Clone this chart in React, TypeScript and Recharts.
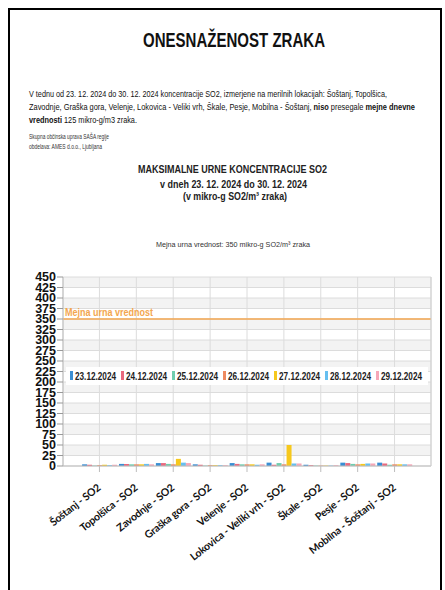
import React from 'react';
import { BarChart, Bar, XAxis, YAxis, CartesianGrid, ReferenceLine, Legend } from 'recharts';

const locations = [
  'Šoštanj - SO2',
  'Topolšica - SO2',
  'Zavodnje - SO2',
  'Graška gora - SO2',
  'Velenje - SO2',
  'Lokovica - Veliki vrh - SO2',
  'Škale - SO2',
  'Pesje - SO2',
  'Mobilna - Šoštanj - SO2',
];
const dates = ['23.12.2024', '24.12.2024', '25.12.2024', '26.12.2024', '27.12.2024', '28.12.2024', '29.12.2024'];
const d23 = [4, 5, 7, 4, 7, 8, 3, 8, 8];
const d24 = [3, 5, 7, 3, 5, 3, 2, 7, 6];
const d25 = [1, 4, 5, 1, 4, 7, 1, 5, 3];
const d26 = [2, 4, 4, 2, 4, 4, 1, 4, 4];
const d27 = [3, 4, 17, 2, 4, 50, 1, 5, 4];
const d28 = [2, 5, 8, 2, 3, 6, 1, 6, 4];
const d29 = [3, 4, 7, 2, 4, 6, 2, 6, 4];
const yTicks = [0, 25, 50, 75, 100, 125, 150, 175, 200, 225, 250, 275, 300, 325, 350, 375, 400, 425, 450];
const limitValue = 350;
const limitLabel = 'Mejna urna vrednost';

const seriesValues = [d23, d24, d25, d26, d27, d28, d29];
const colors = ['#3a8ed3', '#e9697e', '#70cdae', '#ee8a60', '#f6c81d', '#66bff0', '#f6a7b7'];

const data = locations.map((name, i) => {
  const row: Record<string, string | number> = { name };
  seriesValues.forEach((s, k) => {
    row['d' + k] = s[i];
  });
  return row;
});

const FONT = "'Liberation Sans', Arial, sans-serif";

const XTick = (props: any) => {
  const { x, y, payload } = props;
  return (
    <g transform={`translate(${x + 2},${y + 15})`}>
      <text
        x={0}
        y={0}
        textAnchor="end"
        transform="rotate(-38)"
        fontFamily="Lato, 'Open Sans', sans-serif"
        fontWeight={700}
        fontSize={10.5}
        letterSpacing={-0.2}
        fill="#111"
      >
        {payload.value}
      </text>
    </g>
  );
};

const renderLegend = () => (
  <svg width={362} height={18} style={{ display: 'block' }}>
    <rect x={0} y={0} width={362} height={18} fill="#fff" />
    {dates.map((d, i) => (
      <g key={d}>
        <rect x={i * 51 + 4} y={4} width={3} height={9} fill={colors[i]} />
        <text
          x={i * 51 + 9}
          y={13}
          fontFamily={FONT}
          fontWeight={700}
          fontSize={11}
          fill="#222"
          textLength={41}
          lengthAdjust="spacingAndGlyphs"
        >
          {d}
        </text>
      </g>
    ))}
  </svg>
);

const LimitLabel = (props: any) => {
  const vb = props.viewBox || {};
  return (
    <text
      x={(vb.x || 0) + 2}
      y={(vb.y || 0) - 3}
      fill="#f3a64f"
      fontFamily={FONT}
      fontWeight={700}
      fontSize={11}
      textLength={88}
      lengthAdjust="spacingAndGlyphs"
    >
      {limitLabel}
    </text>
  );
};

const T = (p: any) => (
  <text
    x={p.x}
    y={p.y}
    textAnchor={p.anchor || 'start'}
    fontFamily={FONT}
    fontWeight={p.bold ? 700 : 400}
    fontSize={p.size}
    fill={p.fill || '#111'}
    textLength={p.w}
    lengthAdjust="spacingAndGlyphs"
  >
    {p.children}
  </text>
);

export default function App() {
  return (
    <div
      style={{
        position: 'fixed',
        left: 0,
        top: 0,
        width: 445,
        height: 590,
        overflow: 'hidden',
        background: '#fff',
      }}
    >
      <div
        style={{
          position: 'absolute',
          left: 8,
          top: 8,
          width: 434,
          height: 620,
          boxSizing: 'border-box',
          borderLeft: '2px solid #000',
          borderTop: '2px solid #000',
          borderRight: '2px solid #000',
        }}
      />
      <svg width={445} height={255} style={{ position: 'absolute', left: 0, top: 0 }}>
        <T x={234} y={47} anchor="middle" size={19.5} bold w={182} fill="#111">
          ONESNAŽENOST ZRAKA
        </T>
        <T x={29} y={97} size={9} w={358}>
          V tednu od 23. 12. 2024 do 30. 12. 2024 koncentracije SO2, izmerjene na merilnih lokacijah: Šoštanj, Topolšica,
        </T>
        <text x={29} y={110} fontFamily={FONT} fontSize={9} fill="#111" textLength={386} lengthAdjust="spacingAndGlyphs">
          Zavodnje, Graška gora, Velenje, Lokovica - Veliki vrh, Škale, Pesje, Mobilna - Šoštanj,{' '}
          <tspan fontWeight={700}>niso</tspan> presegale <tspan fontWeight={700}>mejne dnevne</tspan>
        </text>
        <text x={29} y={123} fontFamily={FONT} fontSize={9} fill="#111" textLength={108} lengthAdjust="spacingAndGlyphs">
          <tspan fontWeight={700}>vrednosti</tspan> 125 mikro-g/m3 zraka.
        </text>
        <T x={29} y={139} size={6.5} w={80} fill="#333">
          Skupna občinska uprava SAŠA regije
        </T>
        <T x={29} y={149} size={6.5} w={73} fill="#333">
          obdelava: AMES d.o.o., Ljubljana
        </T>
        <T x={232.5} y={173} anchor="middle" size={11} bold w={189} fill="#222">
          MAKSIMALNE URNE KONCENTRACIJE SO2
        </T>
        <T x={233.5} y={188} anchor="middle" size={11} bold w={147} fill="#222">
          v dneh 23. 12. 2024 do 30. 12. 2024
        </T>
        <T x={235} y={200} anchor="middle" size={11} bold w={104} fill="#222">
          (v mikro-g SO2/m³ zraka)
        </T>
        <T x={233} y={247} anchor="middle" size={7.5} w={154} fill="#333">
          Mejna urna vrednost: 350 mikro-g SO2/m³ zraka
        </T>
      </svg>
      <div style={{ position: 'absolute', left: 0, top: 250 }}>
        <BarChart
          width={445}
          height={340}
          data={data}
          margin={{ top: 27, right: 13, left: 0, bottom: 0 }}
          barCategoryGap="3%"
          barGap={0}
        >
          <CartesianGrid
            stroke="#dcdcdc"
            horizontalFill={['#f3f3f3', '#ffffff']}
            fillOpacity={1}
          />
          <XAxis
            dataKey="name"
            interval={0}
            height={124}
            padding={{ left: 18, right: 18 }}
            tick={<XTick />}
            tickSize={6}
            axisLine={{ stroke: '#bdbdbd' }}
            tickLine={{ stroke: '#bdbdbd' }}
          />
          <YAxis
            width={63}
            domain={[0, 450]}
            ticks={yTicks}
            interval={0}
            allowDataOverflow
            tickSize={6}
            tickMargin={1}
            tick={{ fontSize: 12.5, fontWeight: 700, fill: '#111', fontFamily: FONT }}
            axisLine={{ stroke: '#bdbdbd' }}
            tickLine={{ stroke: '#999' }}
          />
          <YAxis
            yAxisId="right"
            orientation="right"
            width={1}
            domain={[0, 450]}
            tick={false}
            tickLine={false}
            axisLine={{ stroke: '#cfcfcf' }}
          />
          <ReferenceLine y={limitValue} stroke="#f3a64f" strokeWidth={1.5} label={<LimitLabel />} />
          <Legend
            layout="horizontal"
            verticalAlign="middle"
            align="center"
            wrapperStyle={{ top: 117, left: 66, width: 362, height: 18 }}
            content={renderLegend}
          />
          {dates.map((d, k) => (
            <Bar key={d} dataKey={'d' + k} name={d} fill={colors[k]} isAnimationActive={false} />
          ))}
        </BarChart>
      </div>
    </div>
  );
}
